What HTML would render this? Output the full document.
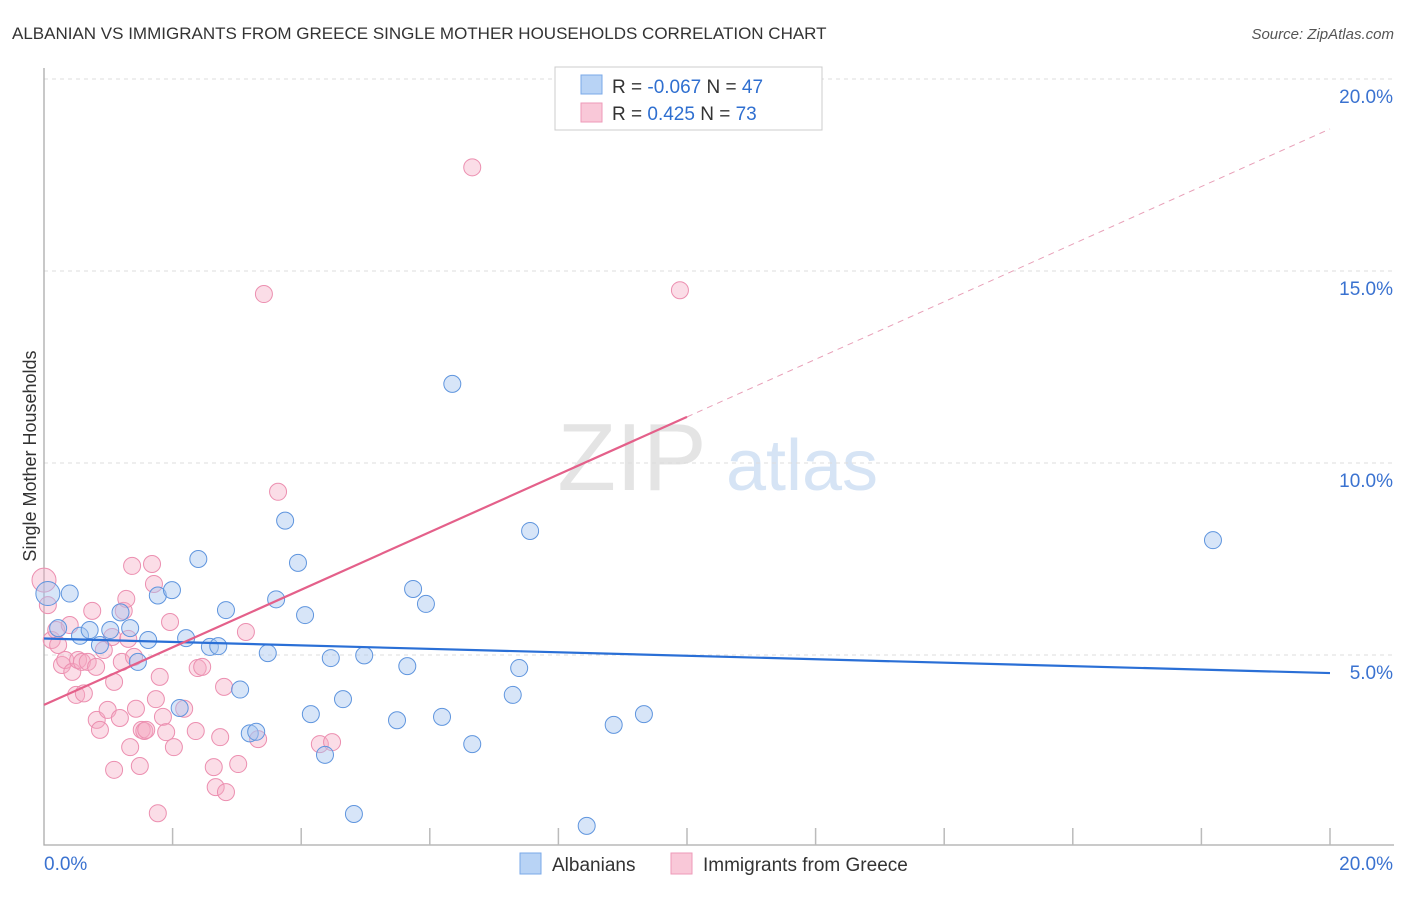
<!DOCTYPE html>
<html><head><meta charset="utf-8"><style>
body{margin:0;background:#fff;font-family:"Liberation Sans",sans-serif}
svg text{font-family:"Liberation Sans",sans-serif}
</style></head><body>
<svg id="c" width="1406" height="892" xmlns="http://www.w3.org/2000/svg">
<text x="12" y="39" font-size="17" fill="#333">ALBANIAN VS IMMIGRANTS FROM GREECE SINGLE MOTHER HOUSEHOLDS CORRELATION CHART</text>
<text x="1394" y="39" font-size="15" fill="#555" font-style="italic" text-anchor="end">Source: ZipAtlas.com</text>
<text x="36" y="456" font-size="18" fill="#333" text-anchor="middle" transform="rotate(-90 36 456)">Single Mother Households</text>
<g><text x="632" y="490" font-size="96" fill="#e4e4e4" font-family="Liberation Serif" text-anchor="middle">ZIP</text><text x="802" y="490" font-size="72" fill="#d6e4f5" text-anchor="middle">atlas</text></g>
<g id="grid"></g><g id="axes"></g><g id="pts"></g><g id="lines"></g>
<g>
<rect x="555" y="67" width="267" height="63" fill="#fff" stroke="#ccc"/>
<rect x="581" y="75" width="21" height="19" fill="#b8d3f5" stroke="#7aa8e8"/>
<rect x="581" y="103" width="21" height="19" fill="#f9c8d8" stroke="#ee9ab8"/>
<text x="612" y="93" font-size="19" fill="#333">R = <tspan fill="#2f6fd0">-0.067</tspan>   N = <tspan fill="#2f6fd0">47</tspan></text>
<text x="612" y="120" font-size="19" fill="#333">R = <tspan fill="#2f6fd0">  0.425</tspan>   N = <tspan fill="#2f6fd0">73</tspan></text>
</g>
<g>
<rect x="520" y="853" width="21" height="21" fill="#b8d3f5" stroke="#7aa8e8"/>
<text x="552" y="871" font-size="19" fill="#333">Albanians</text>
<rect x="671" y="853" width="21" height="21" fill="#f9c8d8" stroke="#ee9ab8"/>
<text x="703" y="871" font-size="19" fill="#333">Immigrants from Greece</text>
</g>
</svg>
<script>
const yTicks=[5,10,15,20];
const yTickLabels=["5.0%","10.0%","15.0%","20.0%"];
const blueX=[0.06,0.4,0.22,0.56,0.71,0.87,1.03,1.19,1.34,1.46,1.62,1.77,1.99,2.21,2.4,2.58,2.71,2.83,3.05,3.2,3.3,3.48,3.61,3.75,3.95,4.06,4.15,4.37,4.46,4.65,4.82,4.98,5.49,5.65,5.74,5.94,6.19,6.35,6.66,7.29,7.39,7.56,8.44,8.86,9.33,18.18,2.11];
const blueY=[6.6,6.6,5.7,5.5,5.65,5.26,5.65,6.11,5.7,4.82,5.39,6.55,6.69,5.44,7.5,5.21,5.23,6.17,4.1,2.96,3.0,5.05,6.45,8.5,7.4,6.04,3.46,2.4,4.92,3.85,0.86,4.99,3.3,4.71,6.72,6.33,3.39,12.06,2.68,3.96,4.66,8.23,0.55,3.18,3.46,7.99,3.62];
const pinkX=[0,0.06,0.12,0.19,0.22,0.28,0.33,0.4,0.44,0.5,0.53,0.59,0.62,0.68,0.75,0.81,0.82,0.87,0.93,0.99,1.06,1.09,1.09,1.18,1.21,1.24,1.28,1.31,1.34,1.37,1.4,1.43,1.49,1.52,1.56,1.59,1.68,1.71,1.74,1.77,1.8,1.85,1.9,1.96,2.02,2.18,2.36,2.39,2.46,2.64,2.67,2.74,2.8,2.83,3.02,3.14,3.33,3.42,3.64,4.29,4.48,6.66,9.89];
const pinkY=[6.95,6.3,5.39,5.65,5.26,4.74,4.87,5.78,4.56,3.96,4.87,4.82,4.0,4.82,6.15,4.69,3.31,3.05,5.13,3.57,5.47,2.01,4.3,3.36,4.82,6.15,6.46,5.42,2.6,7.32,4.95,3.6,2.11,3.05,3.02,3.05,7.37,6.85,3.85,0.88,4.43,3.39,2.99,5.86,2.6,3.6,3.02,4.66,4.69,2.08,1.56,2.86,4.17,1.43,2.16,5.6,2.81,14.4,9.25,2.68,2.73,17.7,14.5];
const blueLine=[[0,5.43],[20,4.53]];
const pinkLine=[[0,3.7],[10,11.2]];
const pinkDash=[[10,11.2],[20,18.7]];
const X0=44,X1=1330,Y0=847,Ypp=38.4;
const xs=v=>X0+v*(X1-X0)/20, ys=v=>Y0-v*Ypp;
const NS="http://www.w3.org/2000/svg";
function mk(t,p,a){const e=document.createElementNS(NS,t);for(const k in a)e.setAttribute(k,a[k]);document.getElementById(p).appendChild(e);return e;}
yTicks.forEach((t,i)=>{
 const g=mk("line","grid",{x1:X0,x2:1394,y1:ys(t),y2:ys(t),stroke:"#ddd","stroke-dasharray":"4 4"});
 
 
 const l=mk("text","grid",{x:1393,y:ys(t)+24,"font-size":19,fill:"#3a72d0","text-anchor":"end"});
 l.textContent=yTickLabels[i];
 
 
});
const ax=mk("path","axes",{d:`M${X0} 68V845H1394`,stroke:"#aaa",fill:"none","stroke-width":1.3});


for(let i=1;i<=10;i++){const t=mk("line","axes",{x1:xs(i*2),x2:xs(i*2),y1:828,y2:845,stroke:"#bbb","stroke-width":1.5});
 
 }
[["0.0%",44,"start"],["20.0%",1393,"end"]].forEach(d=>{const t=mk("text","axes",{x:d[1],y:870,"font-size":19,fill:"#3a72d0","text-anchor":d[2]});t.textContent=d[0];
 
 });
pinkX.forEach((x,i)=>{const c=mk("circle","pts",{cx:xs(x),cy:ys(pinkY[i]),r:i==0?12:8.5,fill:"#f4a9c2","fill-opacity":0.4,stroke:"#ec8fb0","stroke-width":1});
 
 });
blueX.forEach((x,i)=>{const c=mk("circle","pts",{cx:xs(x),cy:ys(blueY[i]),r:i==0?12:8.5,fill:"#a6c6f0","fill-opacity":0.45,stroke:"#5f95de","stroke-width":1});
 
 });
function ln(p,col,w,dash,name){const l=mk("line","lines",{x1:xs(p[0][0]),y1:ys(p[0][1]),x2:xs(p[1][0]),y2:ys(p[1][1]),stroke:col,"stroke-width":w});if(dash)l.setAttribute("stroke-dasharray",dash);
 
 }
ln(blueLine,"#2a6fd6",2.2,null,"trend-albanians");
ln(pinkLine,"#e4608a",2.2,null,"trend-greece");
ln(pinkDash,"#e8a0b8",1,"6 5","trend-greece-extension");
</script>
</body></html>
